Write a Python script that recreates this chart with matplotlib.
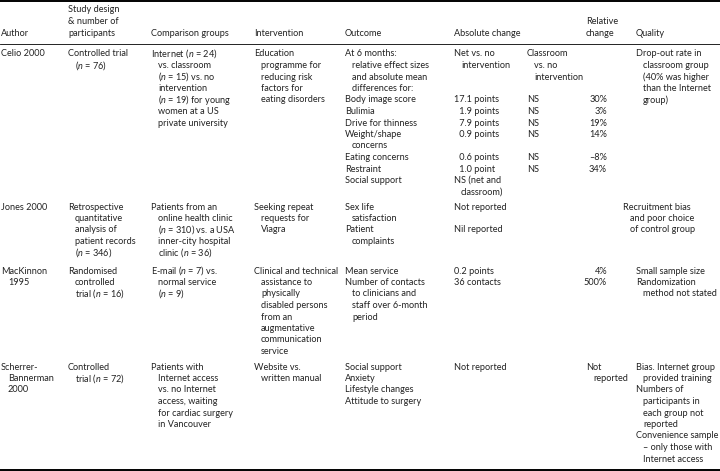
import matplotlib
matplotlib.use("Agg")
import matplotlib.pyplot as plt

# Texte du tableau : une liste de lignes par cellule, "  " en tête = ligne en retrait
headers = [["Author"], ["Study design", "& number of", "participants"], ["Comparison groups"],
           ["Intervention"], ["Outcome"], ["Absolute change"], [], ["Relative", "change"], ["Quality"]]

authors = [["Celio 2000"],
           ["Jones 2000"],
           ["MacKinnon", "  1995"],
           ["Scherrer-", "  Bannerman", "  2000"]]

designs = [["Controlled trial", "  ($n$ = 76)"],
           ["Retrospective", "  quantitative", "  analysis of", "  patient records", "  ($n$ = 346)"],
           ["Randomised", "  controlled", "  trial ($n$ = 16)"],
           ["Controlled", "  trial ($n$ = 72)"]]

comparisons = [["Internet ($n$ = 24)", "  vs. classroom", "  ($n$ = 15) vs. no", "  intervention",
                "  ($n$ = 19) for young", "  women at a US", "  private university"],
               ["Patients from an", "  online health clinic", "  ($n$ = 310) vs. a USA",
                "  inner-city hospital", "  clinic ($n$ = 36)"],
               ["E-mail ($n$ = 7) vs.", "  normal service", "  ($n$ = 9)"],
               ["Patients with", "  Internet access", "  vs. no Internet", "  access, waiting",
                "  for cardiac surgery", "  in Vancouver"]]

interventions = [["Education", "  programme for", "  reducing risk", "  factors for", "  eating disorders"],
                 ["Seeking repeat", "  requests for", "  Viagra"],
                 ["Clinical and technical", "  assistance to", "  physically", "  disabled persons",
                  "  from an", "  augmentative", "  communication", "  service"],
                 ["Website vs.", "  written manual"]]

outcomes = [["At 6 months:", "  relative effect sizes", "  and absolute mean", "  differences for:",
             "Body image score", "Bulimia", "Drive for thinness", "Weight/shape", "  concerns",
             "Eating concerns", "Restraint", "Social support"],
            ["Sex life", "  satisfaction", "Patient", "  complaints"],
            ["Mean service", "Number of contacts", "  to clinicians and", "  staff over 6-month", "  period"],
            ["Social support", "Anxiety", "Lifestyle changes", "Attitude to surgery"]]

abs_net = [["Net vs. no", "  intervention", "", "", "17.1 points", "\u20071.9 points", "\u20077.9 points",
            "\u20070.9 points", "", "\u20070.6 points", "\u20071.0 point", "NS (net and", "  classroom)"],
           ["Not reported", "", "Nil reported"],
           ["0.2 points", "36 contacts"],
           ["Not reported"]]

abs_classroom = [["Classroom", "  vs. no", "  intervention", "", "NS", "NS", "NS", "NS", "", "NS", "NS"],
                 [], [], []]

relative = [["", "", "", "", "30%", "3%", "19%", "14%", "", "\u20138%", "34%"],
            [],
            ["4%", "500%"],
            ["Not", "  reported"]]

quality = [["Drop-out rate in", "  classroom group", "  (40% was higher", "  than the Internet", "  group)"],
           ["Recruitment bias", "  and poor choice", "  of control group"],
           ["Small sample size", "Randomization", "  method not stated"],
           ["Bias. Internet group", "  provided training", "Numbers of", "  participants in",
            "  each group not", "  reported", "Convenience sample", "  \u2013 only those with",
            "  Internet access"]]

columns = [authors, designs, comparisons, interventions, outcomes, abs_net, abs_classroom, relative, quality]

# mise en page (pixels)
COL_X = [1, 68, 151, 254, 345, 454, 527, 586, 636]
REL_RIGHT = 607
ROW_Y = [54, 207, 271, 367]
HEAD_Y = 33
LINE_H = 11.5
INDENT = 7
FS = 6.6

plt.rcParams['font.family'] = ['Lato', 'DejaVu Sans']
plt.rcParams['mathtext.fontset'] = 'custom'
plt.rcParams['mathtext.rm'] = 'Lato'
plt.rcParams['mathtext.it'] = 'Lato:italic'

fig = plt.figure(figsize=(7.2, 4.71), dpi=100)
ax = fig.add_axes([0, 0, 1, 1])
ax.set_xlim(0, 720)
ax.set_ylim(471, 0)
ax.axis('off')


def draw_lines(lines, x, y0, ha='left'):
    for i, line in enumerate(lines):
        if not line:
            continue
        dx = 0
        if line.startswith('  '):
            line = line[2:]
            dx = INDENT
        ax.text(x + dx, y0 + i * LINE_H, line, fontsize=FS, ha=ha, va='center', color='#222222')


# en-têtes alignés sur la dernière ligne
for x, head in zip(COL_X, headers):
    draw_lines(head, x, HEAD_Y - (len(head) - 1) * LINE_H)

for c, col in enumerate(columns):
    for r, cell in enumerate(col):
        x = COL_X[c]
        if col is relative and cell and cell[0] != "Not":
            draw_lines(cell, REL_RIGHT, ROW_Y[r], ha='right')
            continue
        if col is quality and r == 1:
            x = 623
        draw_lines(cell, x, ROW_Y[r])

# filets du tableau
ax.axhline(1.2, color='black', lw=1.4)
ax.axhline(44, color='black', lw=0.6)
ax.axhline(469.5, color='black', lw=1.4)

fig.savefig('out.png', dpi=100)
